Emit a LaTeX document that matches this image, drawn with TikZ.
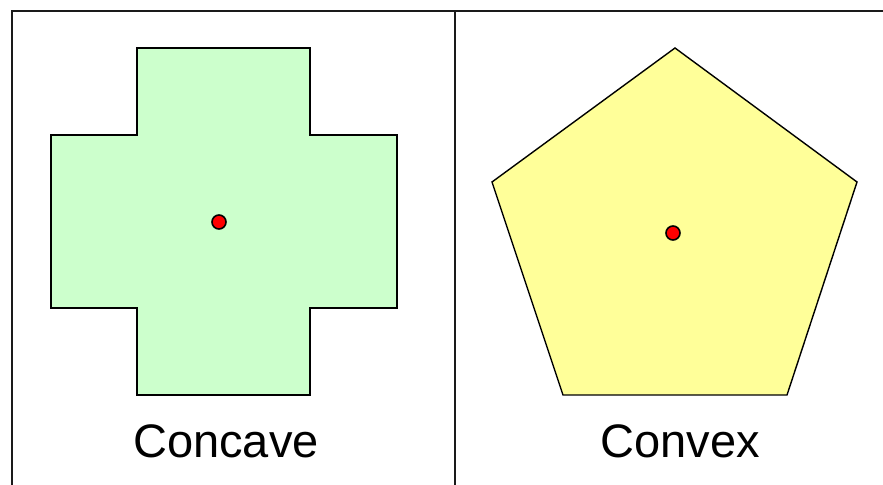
\documentclass[tikz,border=0pt]{standalone}
\usepackage{fontspec}
\setmainfont{Liberation Sans}
\usetikzlibrary{positioning}
\definecolor{Mint}  {HTML}{CCFFCC}
\definecolor{Lemon} {HTML}{FFFF99}
\definecolor{Dot}   {HTML}{FF0000}
\definecolor{Frame} {HTML}{1A1A1A}
\tikzset{
  panel/.style={draw=Frame, line width=1pt},
  shp/.style args={#1}{
    draw=black, fill=#1, line width=0.7pt, line join=miter,
  },
  ctr/.style={
    circle, draw=black, fill=Dot, line width=0.8pt,
    inner sep=0pt, minimum size=7pt,
  },
  shplbl/.style={
    font=\fontsize{23.5}{28}\selectfont, inner sep=0pt,
  },
}
\begin{document}
\begin{tikzpicture}[x=0.5pt,y=-0.5pt]
    \useasboundingbox (0,0) rectangle (883,485);
    % frame
    \draw[panel] (12,490)--(12,11)--(890,11);
    \draw[panel] (455,11)--(455,490);
    % concave shape
    \draw[shp=Mint] (137,48)--(310,48)--(310,135)--(397,135)--(397,308)--(310,308)
      --(310,395)--(137,395)--(137,308)--(51,308)--(51,135)--(137,135)--cycle;
    \node[ctr] (cc) at (219,222) {};
    \node[shplbl] (lcc) at (226,441) {Concave};
    % convex shape
    \draw[shp=Lemon] (675,48)--(857,182)--(787,395)--(563,395)--(492,182)--cycle;
    \node[ctr] (cv) at (673,233) {};
    \node[shplbl] (lcv) at (680,441) {Convex};
  \end{tikzpicture}
\end{document}
